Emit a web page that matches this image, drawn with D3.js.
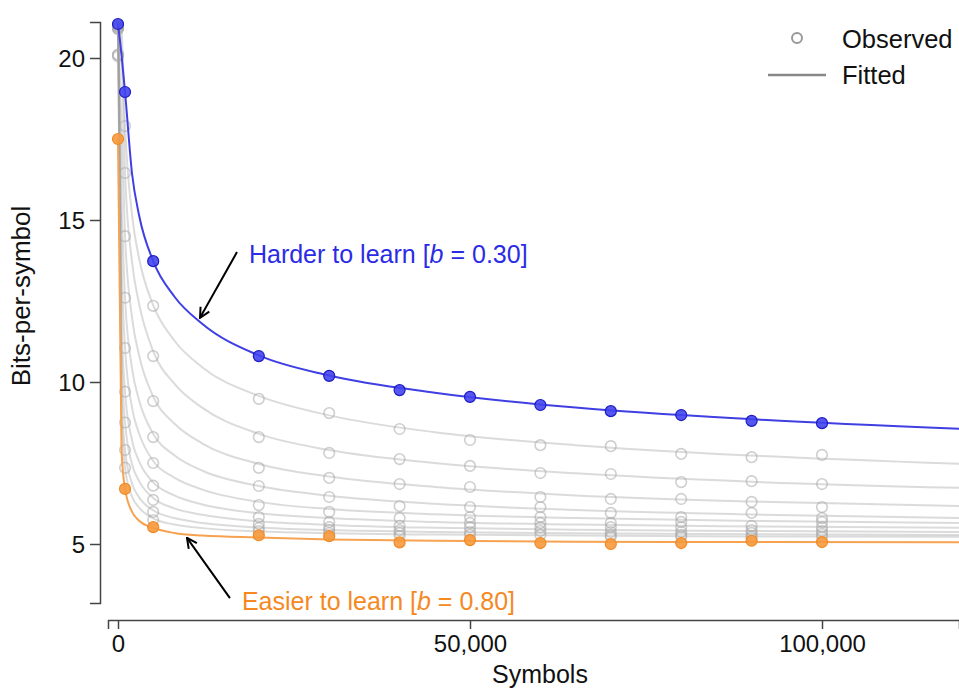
<!DOCTYPE html>
<html>
<head>
<meta charset="utf-8">
<script src="https://cdn.jsdelivr.net/npm/d3@7"></script>
<style>
    body { margin: 0; background: #fff; }
    text { font-family: "Liberation Sans", Arial, Helvetica, sans-serif; }
</style>
</head>
<body>
<div id="chart"></div>
<script>
// observed data: symbols seen vs. bits-per-symbol
var obsX = [0, 1000, 5000, 20000, 30000, 40000, 50000, 60000, 70000, 80000, 90000, 100000];

var obsBlue = [21.05, 18.95, 13.73, 10.80, 10.19, 9.75, 9.54, 9.29, 9.10, 8.98, 8.80, 8.73];
var obsOrange = [17.5, 6.7, 5.52, 5.27, 5.24, 5.05, 5.12, 5.03, 5.0, 5.03, 5.1, 5.06];
var obsGrey = [
    [21.0, 17.9, 12.35, 9.48, 9.04, 8.55, 8.21, 8.05, 8.02, 7.78, 7.68, 7.75],
    [20.1, 16.45, 10.8, 8.30, 7.81, 7.62, 7.41, 7.19, 7.16, 6.91, 6.94, 6.85],
    [20.9, 14.5, 9.41, 7.35, 7.04, 6.85, 6.76, 6.45, 6.39, 6.39, 6.30, 6.14],
    [20.95, 12.6, 8.3, 6.79, 6.45, 6.17, 6.14, 6.14, 5.96, 5.83, 5.96, 5.80],
    [20.1, 11.05, 7.5, 6.20, 5.99, 5.80, 5.83, 5.83, 5.65, 5.68, 5.56, 5.68],
    [21.0, 9.7, 6.8, 5.83, 5.68, 5.56, 5.65, 5.65, 5.52, 5.52, 5.43, 5.52],
    [20.9, 8.75, 6.36, 5.62, 5.52, 5.43, 5.52, 5.52, 5.37, 5.37, 5.34, 5.40],
    [20.05, 7.9, 5.99, 5.49, 5.43, 5.34, 5.37, 5.40, 5.28, 5.28, 5.25, 5.31],
    [20.95, 7.35, 5.74, 5.40, 5.34, 5.25, 5.28, 5.28, 5.22, 5.22, 5.19, 5.22]
];

// fitted curves at these symbol counts
var fitX = [0, 500, 1000, 2000, 3000, 5000, 8000, 12000, 20000, 30000, 45000, 65000, 90000, 120000];

var fitBlue = [21.05, 20.1, 18.95, 16.42, 15.14, 13.73, 12.64, 11.79, 10.82, 10.2, 9.67, 9.21, 8.85, 8.55];
var fitOrange = [17.5, 7.9, 6.7, 5.99, 5.72, 5.5, 5.34, 5.26, 5.2, 5.14, 5.1, 5.07, 5.06, 5.05];
var fitGrey = [
    [21.1, 20.8, 17.9, 15.14, 13.81, 12.37, 11.28, 10.45, 9.57, 8.97, 8.45, 8.05, 7.73, 7.47],
    [21.1, 20.1, 16.45, 13.69, 12.41, 10.95, 9.95, 9.2, 8.4, 7.9, 7.5, 7.18, 6.92, 6.73],
    [21.1, 17.95, 14.5, 11.98, 10.82, 9.55, 8.72, 8.1, 7.47, 7.08, 6.76, 6.5, 6.31, 6.17],
    [21.1, 15.7, 12.6, 10.41, 9.44, 8.4, 7.74, 7.26, 6.79, 6.49, 6.24, 6.05, 5.91, 5.8],
    [21.1, 13.76, 11.05, 9.2, 8.41, 7.56, 7.05, 6.68, 6.3, 6.08, 5.92, 5.8, 5.71, 5.65],
    [21.1, 12.0, 9.7, 8.19, 7.55, 6.9, 6.5, 6.22, 5.95, 5.8, 5.68, 5.6, 5.54, 5.5],
    [21.1, 10.76, 8.75, 7.46, 6.94, 6.42, 6.1, 5.9, 5.7, 5.59, 5.5, 5.44, 5.4, 5.37],
    [21.1, 9.6, 7.9, 6.86, 6.44, 6.04, 5.8, 5.65, 5.51, 5.43, 5.37, 5.33, 5.3, 5.28],
    [21.1, 8.85, 7.35, 6.46, 6.12, 5.79, 5.6, 5.49, 5.39, 5.33, 5.29, 5.26, 5.23, 5.22]
];

var xTicks = [0, 50000, 100000];
var yTicks = [5, 10, 15, 20];

var width = 959,
    height = 692;

var blueLine = "#3f3fe3",
    blueFill = "#4444ee",
    blueStroke = "#1c1cc4",
    orangeLine = "#f6a250",
    orangeFill = "#f7993c",
    orangeStroke = "#f08a26";

var svg = d3.select("#chart").append("svg")
    .attr("width", width)
    .attr("height", height);

var x = d3.scaleLinear().domain([0, 100000]).range([118, 822]);
var y = d3.scaleLinear().domain([5, 20]).range([544, 58]);

// axis scales span the drawn axis lines
var xAxisScale = x.copy().domain([x.invert(108), x.invert(959)]).range([108, 959]);
var yAxisScale = y.copy().domain([y.invert(603), y.invert(22)]).range([603, 22]);

var line = d3.line()
    .curve(d3.curveMonotoneX)
    .x(function (d) { return x(d[0]); })
    .y(function (d) { return y(d[1]); });

function pairs(xs, ys) {
    return xs.map(function (v, i) { return [v, ys[i]]; });
}

svg.append("defs").append("clipPath")
    .attr("id", "plot")
    .append("rect")
    .attr("x", 100).attr("y", 0)
    .attr("width", width - 100).attr("height", 612);

var plot = svg.append("g").attr("clip-path", "url(#plot)");

// grey fitted curves
plot.selectAll(".grey-fit")
    .data(fitGrey)
    .enter().append("path")
    .attr("class", "grey-fit")
    .attr("d", function (d) { return line(pairs(fitX, d)); })
    .style("fill", "none")
    .style("stroke", "#999")
    .style("stroke-opacity", 0.35)
    .style("stroke-width", 2);

// grey observed points
obsGrey.forEach(function (series) {
    plot.selectAll(null)
        .data(pairs(obsX, series))
        .enter().append("circle")
        .attr("cx", function (d) { return x(d[0]); })
        .attr("cy", function (d) { return y(d[1]); })
        .attr("r", 5.3)
        .style("fill", "none")
        .style("stroke", "#a8a8a8")
        .style("stroke-opacity", 0.55)
        .style("stroke-width", 1.6);
});

// highlighted curves
plot.append("path")
    .attr("d", line(pairs(fitX, fitOrange)))
    .style("fill", "none")
    .style("stroke", orangeLine)
    .style("stroke-width", 2);

plot.append("path")
    .attr("d", line(pairs(fitX, fitBlue)))
    .style("fill", "none")
    .style("stroke", blueLine)
    .style("stroke-width", 2);

plot.selectAll(".orange-pt")
    .data(pairs(obsX, obsOrange))
    .enter().append("circle")
    .attr("class", "orange-pt")
    .attr("cx", function (d) { return x(d[0]); })
    .attr("cy", function (d) { return y(d[1]); })
    .attr("r", 5.5)
    .style("fill", orangeFill)
    .style("fill-opacity", 0.9)
    .style("stroke", orangeStroke)
    .style("stroke-width", 1.2);

plot.selectAll(".blue-pt")
    .data(pairs(obsX, obsBlue))
    .enter().append("circle")
    .attr("class", "blue-pt")
    .attr("cx", function (d) { return x(d[0]); })
    .attr("cy", function (d) { return y(d[1]); })
    .attr("r", 5.5)
    .style("fill", blueFill)
    .style("fill-opacity", 0.9)
    .style("stroke", blueStroke)
    .style("stroke-width", 1.2);

// axes
var xAxis = svg.append("g")
    .attr("class", "x axis")
    .attr("transform", "translate(0,620)")
    .call(d3.axisBottom(xAxisScale).tickValues(xTicks).tickFormat(d3.format(",")).tickSizeOuter(0).tickSize(9).tickPadding(6));

var yAxis = svg.append("g")
    .attr("class", "y axis")
    .attr("transform", "translate(100,0)")
    .call(d3.axisLeft(yAxisScale).tickValues(yTicks).tickSizeOuter(0).tickSize(10).tickPadding(5));

svg.selectAll(".axis path, .axis line")
    .style("stroke", "#444")
    .style("stroke-width", 1.5);
svg.selectAll(".axis text")
    .style("font-size", "24px")
    .style("fill", "#111")
    .style("font-family", "'Liberation Sans', Arial, sans-serif");
yAxis.selectAll("text").attr("dy", "0.36em");

svg.append("text")
    .attr("x", 540)
    .attr("y", 683)
    .style("text-anchor", "middle")
    .style("font-size", "25px")
    .style("fill", "#111")
    .text("Symbols");

svg.append("text")
    .attr("transform", "translate(30,296) rotate(-90)")
    .style("text-anchor", "middle")
    .style("font-size", "26px")
    .style("fill", "#111")
    .text("Bits-per-symbol");

// legend
var legend = svg.append("g").attr("class", "legend");
legend.append("circle")
    .attr("cx", 797).attr("cy", 38).attr("r", 5)
    .style("fill", "none")
    .style("stroke", "#999")
    .style("stroke-width", 2);
legend.append("line")
    .attr("x1", 768).attr("x2", 826)
    .attr("y1", 75).attr("y2", 75)
    .style("stroke", "#888")
    .style("stroke-width", 2.5);
legend.append("text")
    .attr("x", 842).attr("y", 48)
    .style("font-size", "25.5px")
    .style("fill", "#111")
    .text("Observed");
legend.append("text")
    .attr("x", 842).attr("y", 84)
    .style("font-size", "25.5px")
    .style("fill", "#111")
    .text("Fitted");

// annotations
svg.append("defs").append("marker")
    .attr("id", "head")
    .attr("viewBox", "0 0 12 12")
    .attr("refX", 11).attr("refY", 6)
    .attr("markerWidth", 12).attr("markerHeight", 12)
    .attr("markerUnits", "userSpaceOnUse")
    .attr("orient", "auto")
    .append("path")
    .attr("d", "M1,1 L11,6 L1,11")
    .style("fill", "none")
    .style("stroke", "#000")
    .style("stroke-width", 2);

var notes = [
    {label: "Harder to learn [", b: "0.30", color: "#2b2be6", tx: 18600, ty: 13.67,
        from: [16900, 14.01], to: [11650, 11.98]},
    {label: "Easier to learn [", b: "0.80", color: "#f5891f", tx: 17600, ty: 2.96,
        from: [15900, 3.33], to: [9800, 5.19]}
];

notes.forEach(function (n) {
    svg.append("line")
        .attr("x1", x(n.from[0])).attr("y1", y(n.from[1]))
        .attr("x2", x(n.to[0])).attr("y2", y(n.to[1]))
        .style("stroke", "#000")
        .style("stroke-width", 2)
        .attr("marker-end", "url(#head)");

    var t = svg.append("text")
        .attr("x", x(n.tx))
        .attr("y", y(n.ty))
        .style("font-size", "25px")
        .style("fill", n.color);
    t.append("tspan").text(n.label);
    t.append("tspan").style("font-style", "italic").text("b");
    t.append("tspan").text(" = " + n.b + "]");
});
</script>
</body>
</html>
